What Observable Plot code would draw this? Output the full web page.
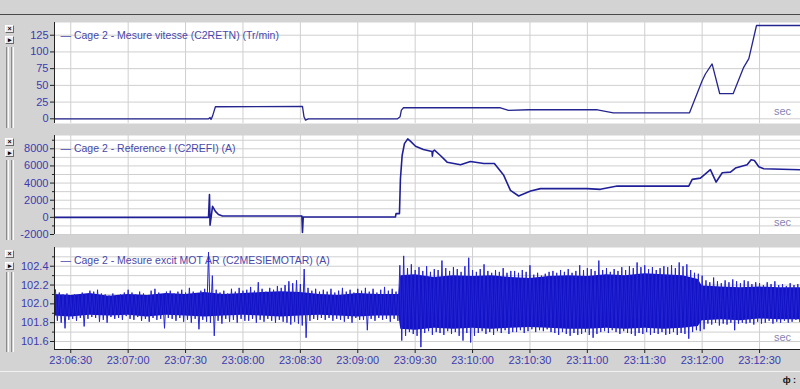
<!DOCTYPE html>
<html><head><meta charset="utf-8">
<script src="https://cdn.jsdelivr.net/npm/d3@7"></script>
<script src="https://cdn.jsdelivr.net/npm/@observablehq/plot@0.6"></script>
<style>
html,body{margin:0;padding:0;}
body{width:800px;height:389px;background:#d3d3d3;position:relative;overflow:hidden;font-family:"Liberation Sans",Arial,sans-serif;}
.topline{position:absolute;left:0;top:14px;width:800px;height:1px;background:#4a4a4a;}
.btn{position:absolute;left:5px;width:7px;height:6px;background:#ececec;border:1px solid;border-color:#fff #6a6a6a #6a6a6a #fff;font-size:7px;line-height:6px;text-align:center;color:#000;font-weight:bold;overflow:hidden;}
.rail{position:absolute;width:1px;border-left:1px solid #8a8a8a;border-right:1px solid #fafafa;}
.status{position:absolute;left:0;top:371px;width:800px;height:18px;border-top:1px solid #f2f2f2;background:#d3d3d3;}
.pin{position:absolute;right:4px;top:3px;font-size:9px;font-weight:bold;color:#111;}
svg.panel{position:absolute;left:0;overflow:visible;}
</style></head><body>
<div class="topline"></div>
<div class="status"><span class="pin">ф :</span></div>
<script>
// ---- data (seconds after 23:06:00) ----
const timeTickLabels = ["23:06:30","23:07:00","23:07:30","23:08:00","23:08:30","23:09:00","23:09:30","23:10:00","23:10:30","23:11:00","23:11:30","23:12:00","23:12:30"];
const viewStart = 21.5, viewEnd = 411.4;

const titles = [
  "— Cage 2 - Mesure vitesse (C2RETN) (Tr/min)",
  "— Cage 2 - Reference I (C2REFI) (A)",
  "— Cage 2 - Mesure excit MOT AR (C2MESIEMOTAR) (A)"
];

const speedT = [21.5,102.0,102.8,103.3,104.1,105.6,151.1,151.9,152.7,154.2,200.8,202.1,202.8,203.9,254.6,258.8,269.2,305.3,313.6,353.4,360.0,361.7,365.2,369.2,376.2,381.7,384.4,388.4,411.4];
const speedV = [0,0,2,-1,4,18,18.5,3,-2,0,0,3,13,16.5,16.5,12.5,13.5,13.5,9,9,57,67,82,37.5,37.5,77,90,139.5,139.5];
const speedTicks = [0,25,50,75,100,125];

const refT = [21.5,102.0,102.5,102.8,104.1,105.6,107.2,109.3,150.8,151.1,151.5,199.7,200.0,201.8,202.3,203.2,204.4,206.1,207.5,210.2,214.3,218.8,219.0,219.3,220.1,223.2,226.7,233.7,238.9,245.9,251.4,256.3,259.8,264.1,270.3,275.5,299.9,306.8,315.6,353.0,354.8,359.1,364.3,367.3,370.5,374.8,377.4,383.5,385.6,387.3,389.6,392.2,411.4];
const refV = [0,0,2650,-920,1290,700,325,160,150,-1770,50,50,440,440,4500,7220,8600,9160,8900,8300,7920,7690,7140,7700,7840,7220,6440,6140,6520,6290,6290,4900,3150,2490,3070,3350,3350,3270,3650,3650,4430,4580,5560,4120,5210,5280,5750,6140,6720,6640,5900,5680,5560];
const refTicks = [-2000,0,2000,4000,6000,8000];
const refGrid = [-2000,-1000,0,1000,2000,3000,4000,5000,6000,7000,8000,9000];

// excitation current: max / min per 2 s window, starting at 22 s
const excitStart = 22, excitStep = 2;
const excitHi = [
102.15,102.12,102.10,102.11,102.08,102.10,102.09,102.12,102.10,102.14,
102.13,102.15,102.11,102.10,102.09,102.11,102.08,102.10,102.12,102.15,
102.12,102.10,102.13,102.11,102.09,102.14,102.16,102.12,102.10,102.13,
102.14,102.11,102.13,102.15,102.12,102.17,102.13,102.11,102.14,102.16,
102.55,102.30,102.15,102.12,102.14,102.11,102.16,102.13,102.17,102.14,
102.15,102.18,102.14,102.23,102.16,102.13,102.17,102.15,102.19,102.17,
102.20,102.24,102.22,102.25,102.21,102.37,102.17,102.14,102.16,102.13,
102.15,102.13,102.16,102.12,102.14,102.17,102.13,102.15,102.12,102.16,
102.14,102.17,102.13,102.16,102.12,102.15,102.18,102.14,102.16,102.13,
102.41,102.51,102.38,102.42,102.36,102.39,102.35,102.40,102.34,102.37,
102.36,102.46,102.38,102.35,102.39,102.37,102.34,102.40,102.49,102.36,
102.34,102.37,102.42,102.35,102.33,102.36,102.34,102.38,102.33,102.35,
102.35,102.33,102.36,102.34,102.41,102.31,102.33,102.30,102.32,102.34,
102.35,102.33,102.36,102.34,102.37,102.33,102.35,102.41,102.36,102.38,
102.37,102.35,102.46,102.36,102.38,102.34,102.37,102.35,102.39,102.36,
102.40,102.38,102.44,102.39,102.41,102.37,102.39,102.36,102.38,102.40,
102.39,102.41,102.38,102.44,102.40,102.42,102.36,102.33,102.32,102.30,
102.25,102.23,102.28,102.24,102.22,102.25,102.23,102.26,102.24,102.22,
102.25,102.24,102.21,102.23,102.22,102.20,102.23,102.21,102.24,102.20,
102.21,102.19,102.22,102.20,102.21];
const excitLo = [
101.82,101.80,101.74,101.83,101.84,101.82,101.85,101.76,101.84,101.86,
101.85,101.81,101.83,101.80,101.86,101.84,101.85,101.83,101.87,101.84,
101.83,101.86,101.82,101.84,101.81,101.85,101.83,101.84,101.74,101.85,
101.84,101.82,101.85,101.81,101.83,101.80,101.84,101.73,101.83,101.81,
101.80,101.66,101.82,101.79,101.84,101.81,101.83,101.80,101.84,101.82,
101.82,101.84,101.80,101.83,101.81,101.84,101.82,101.80,101.83,101.81,
101.80,101.78,101.81,101.79,101.77,101.64,101.82,101.84,101.83,101.85,
101.83,101.85,101.82,101.84,101.83,101.81,101.84,101.80,101.85,101.83,
101.83,101.72,101.84,101.82,101.85,101.83,101.84,101.81,101.84,101.82,
101.61,101.66,101.70,101.68,101.66,101.54,101.69,101.71,101.67,101.70,
101.69,101.67,101.71,101.68,101.70,101.66,101.61,101.69,101.59,101.66,
101.69,101.71,101.68,101.70,101.67,101.71,101.69,101.72,101.68,101.70,
101.70,101.72,101.69,101.71,101.73,101.70,101.72,101.71,101.73,101.70,
101.69,101.67,101.70,101.68,101.66,101.69,101.67,101.68,101.70,101.67,
101.64,101.68,101.70,101.71,101.69,101.72,101.70,101.68,101.71,101.69,
101.68,101.66,101.69,101.68,101.70,101.67,101.69,101.68,101.70,101.67,
101.68,101.70,101.67,101.69,101.68,101.63,101.70,101.72,101.71,101.73,
101.79,101.78,101.80,101.77,101.79,101.78,101.80,101.72,101.79,101.80,
101.79,101.80,101.78,101.81,101.79,101.80,101.82,101.79,101.81,101.80,
101.82,101.80,101.81,101.83,101.81];
// dense core of the excitation band
const coreT  = [21.5,30,40,50,60,70,80,90,100,110,120,130,140,150,160,170,180,190,200,201.5,202.5,210,220,230,240,250,260,270,280,290,300,310,320,330,340,350,358,360,370,380,390,400,411.4];
const coreHi = [102.10,102.09,102.11,102.08,102.10,102.09,102.11,102.10,102.12,102.10,102.11,102.12,102.13,102.12,102.10,102.09,102.11,102.10,102.10,102.10,102.30,102.31,102.28,102.30,102.29,102.30,102.28,102.27,102.29,102.30,102.29,102.31,102.30,102.32,102.31,102.30,102.26,102.19,102.18,102.17,102.18,102.17,102.17];
const coreLo = [101.87,101.86,101.88,101.87,101.88,101.86,101.88,101.87,101.86,101.87,101.88,101.87,101.86,101.87,101.88,101.87,101.86,101.87,101.87,101.87,101.73,101.72,101.74,101.73,101.74,101.73,101.74,101.75,101.74,101.73,101.73,101.74,101.73,101.74,101.73,101.74,101.76,101.82,101.83,101.82,101.84,101.83,101.83];
const excitTicks = [101.6,101.8,102.0,102.2,102.4];
const excitGrid = [101.6,101.7,101.8,101.9,102.0,102.1,102.2,102.3,102.4,102.5];

// ---- helpers ----
const parseT = d3.utcParse("%H:%M:%S");
const base = +parseT("23:06:00");
const T = s => new Date(base + s * 1000);
const xDomain = [T(viewStart), T(viewEnd)];
const tickDates = timeTickLabels.map(parseT);

const speed = speedT.map((t, i) => ({t: T(t), v: speedV[i]}));
const ref = refT.map((t, i) => ({t: T(t), v: refV[i]}));
const zig = excitHi.flatMap((h, i) => [
  {t: T(excitStart + i * excitStep), v: h},
  {t: T(excitStart + i * excitStep + excitStep / 2), v: excitLo[i]}
]);
const core = coreT.map((t, i) => ({t: T(t), hi: coreHi[i], lo: coreLo[i]}));

const labelBlue = "#3b3bb0";
const gridGray = "#cfcfcf";
const font = {background: "transparent", fontFamily: "'Liberation Sans', Arial, sans-serif", fontSize: "11px", overflow: "visible"};

function panel({top, height, mt, mb, yDomain, yTicks, yGrid, yMinor, yFmt, marks, title, xAxis}) {
  const ms = [
    Plot.frame({fill: "white", stroke: "none"}),
    Plot.gridY(yGrid, {stroke: gridGray, strokeOpacity: 1}),
    Plot.gridX(tickDates, {stroke: gridGray, strokeOpacity: 1}),
    Plot.text([title], {frameAnchor: "top-left", dx: 6, dy: 13, lineAnchor: "middle", textAnchor: "start", fill: "#4848aa", fontSize: 10.5, text: d => d}),
    ...marks,
    Plot.text(["sec"], {frameAnchor: "bottom-right", dx: -18, dy: -12, textAnchor: "middle", lineAnchor: "middle", fill: "#8585b5", text: d => d}),
    Plot.ruleX([xDomain[0]], {stroke: "#222"}),
    Plot.axisY(yTicks, {tickSize: 4, tickPadding: 2, tickFormat: yFmt, stroke: "#222", fill: labelBlue, label: null})
  ];
  if (yMinor) ms.push(Plot.axisY(yMinor, {tickSize: 2, tickFormat: () => "", stroke: "#222", label: null}));
  if (xAxis) {
    ms.push(Plot.ruleY([yDomain[0]], {stroke: "#222"}));
    ms.push(Plot.axisX(tickDates, {tickSize: 4, tickPadding: 3, tickFormat: d3.utcFormat("%H:%M:%S"), stroke: "#222", fill: labelBlue, label: null}));
  }
  const svg = Plot.plot({
    width: 800, height, marginLeft: 54, marginRight: 0, marginTop: mt, marginBottom: mb,
    x: {type: "utc", domain: xDomain, label: null, axis: xAxis ? undefined : null},
    y: {domain: yDomain, label: null},
    style: font,
    marks: ms
  });
  svg.classList.add("panel");
  svg.style.top = top + "px";
  document.body.appendChild(svg);
}

panel({
  top: 16, height: 108, mt: 6, mb: 1, yDomain: [-7.03, 144.0],
  yTicks: speedTicks, yGrid: speedTicks, yMinor: null, yFmt: d => String(d),
  title: titles[0],
  marks: [Plot.line(speed, {x: "t", y: "v", stroke: "#25258f", strokeWidth: 1.3})]
});
panel({
  top: 129, height: 106, mt: 6, mb: 1, yDomain: [-2000, 9551],
  yTicks: refTicks, yGrid: refGrid, yMinor: refGrid.filter(v => !refTicks.includes(v)), yFmt: d => String(d),
  title: titles[1],
  marks: [Plot.line(ref, {x: "t", y: "v", stroke: "#1f1f98", strokeWidth: 1.6})]
});
panel({
  top: 241, height: 130, mt: 6, mb: 22, yDomain: [101.515, 102.599],
  yTicks: excitTicks, yGrid: excitGrid, yMinor: excitGrid.filter(v => !excitTicks.some(t => Math.abs(t - v) < 1e-9)), yFmt: d => d.toFixed(1),
  title: titles[2], xAxis: true,
  marks: [
    Plot.areaY(core, {x: "t", y1: "lo", y2: "hi", fill: "#1212c6"}),
    Plot.line(zig, {x: "t", y: "v", stroke: "#2424d2", strokeWidth: 1})
  ]
});

// window-side controls for each panel
const ctrl = [[25, 36, 47, 128], [138, 149, 160, 240], [250, 262, 272, 352]];
for (const [bx, ba, r0, r1] of ctrl) {
  const b1 = document.createElement("div"); b1.className = "btn"; b1.style.top = bx + "px"; b1.textContent = "×"; document.body.appendChild(b1);
  const b2 = document.createElement("div"); b2.className = "btn"; b2.style.top = ba + "px"; b2.textContent = "▸"; document.body.appendChild(b2);
  for (const rx of [6, 11]) {
    const r = document.createElement("div"); r.className = "rail";
    r.style.left = rx + "px"; r.style.top = r0 + "px"; r.style.height = (r1 - r0) + "px";
    document.body.appendChild(r);
  }
}
</script>
</body></html>
